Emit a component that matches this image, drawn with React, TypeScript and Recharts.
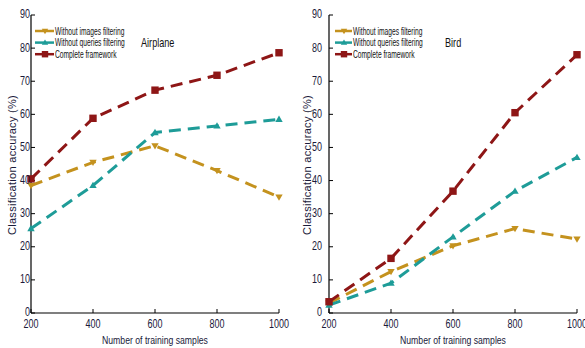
import React from 'react';
import { LineChart, Line, XAxis, YAxis, Legend } from 'recharts';

const xValues = [200, 400, 600, 800, 1000];
const xTicks = [200, 400, 600, 800, 1000];
const yTicks = [0, 10, 20, 30, 40, 50, 60, 70, 80, 90];

const airplaneImages = [38.5, 45.5, 50.5, 43, 35];
const airplaneQueries = [25.5, 38.5, 54.5, 56.5, 58.5];
const airplaneComplete = [40.5, 58.8, 67.3, 71.8, 78.6];

const birdImages = [3, 12.5, 20.3, 25.5, 22.3];
const birdQueries = [2.4, 9, 23, 36.8, 47];
const birdComplete = [3.4, 16.5, 36.8, 60.5, 78];

const seriesNames = ['Without images filtering', 'Without queries filtering', 'Complete framework'];
const COLORS = ['#C4921E', '#1E9C98', '#8E1616'];
const SHAPES = ['down', 'up', 'square'];

const FONT = '"Liberation Sans", Arial, sans-serif';
const TEXT_COLOR = '#1a1a3a';

function Marker({ cx, cy, shape, color, s = 3.7 }: any) {
  if (cx == null || cy == null) return null;
  if (shape === 'square') {
    return <rect x={cx - s} y={cy - s} width={2 * s} height={2 * s} fill={color} />;
  }
  if (shape === 'up') {
    return <polygon points={`${cx - s},${cy + s * 0.7} ${cx + s},${cy + s * 0.7} ${cx},${cy - s}`} fill={color} />;
  }
  return <polygon points={`${cx - s},${cy - s * 0.7} ${cx + s},${cy - s * 0.7} ${cx},${cy + s}`} fill={color} />;
}

function buildData(a: number[], b: number[], c: number[]) {
  return xValues.map((x, i) => ({ x, s0: a[i], s1: b[i], s2: c[i] }));
}

function LegendBox({ left, textLeft, title, titleLeft, width }: any) {
  return (
    <svg width={width} height={70} style={{ position: 'absolute', left: 0, top: 0, overflow: 'visible' }}>
      {seriesNames.map((n, i) => {
        const y = 31 + i * 11.6;
        return (
          <g key={n}>
            <line x1={left} y1={y} x2={textLeft - 1} y2={y} stroke={COLORS[i]} strokeWidth={2.5} />
            <Marker cx={(left + textLeft) / 2} cy={y} shape={SHAPES[i]} color={COLORS[i]} s={3.2} />
            <g transform={`translate(${textLeft},${y}) scale(0.65,1)`}>
              <text x={0} y={0} dy="0.35em" style={{ fontFamily: FONT, fontSize: 10.3, fill: '#111' }}>{n}</text>
            </g>
          </g>
        );
      })}
      <g transform={`translate(${titleLeft},43) scale(0.76,1)`}>
        <text x={0} y={0} dy="0.35em" style={{ fontFamily: FONT, fontSize: 12, fill: '#111' }}>{title}</text>
      </g>
    </svg>
  );
}

function XTick(props: any) {
  const { x, y, payload } = props;
  return (
    <g transform={`translate(${x},${y})`}>
      <text transform="scale(0.72,1)" textAnchor="middle" dy="0.71em" style={{ fontFamily: FONT, fontSize: 12.5, fill: TEXT_COLOR }}>
        {payload.value}
      </text>
    </g>
  );
}

function YTick(props: any) {
  const { x, y, payload } = props;
  return (
    <g transform={`translate(${x},${y - 1})`}>
      <text transform="scale(0.72,1)" textAnchor="end" dy="0.355em" style={{ fontFamily: FONT, fontSize: 12.5, fill: TEXT_COLOR }}>
        {payload.value}
      </text>
    </g>
  );
}

function Panel({ data, width, yAxisWidth, rightMargin, yTickMargin, yLabelX, xLabelX, legendLeft, legendTextLeft, title, titleLeft }: any) {
  const yLabel = () => (
    <text x={yLabelX} y={165} transform={`rotate(-90 ${yLabelX} 165)`} textAnchor="middle" dominantBaseline="central"
      style={{ fontFamily: FONT, fontSize: 11, fill: TEXT_COLOR, letterSpacing: 0.3 }}>Classification accuracy (%)</text>
  );
  const xLabel = () => (
    <g transform={`translate(${xLabelX},340) scale(0.754,1)`}>
      <text x={0} y={0} textAnchor="middle" dy="0.35em" style={{ fontFamily: FONT, fontSize: 11.5, fill: TEXT_COLOR }}>
        Number of training samples
      </text>
    </g>
  );
  return (
    <LineChart width={width} height={348} data={data} margin={{ top: 15, right: rightMargin, left: 0, bottom: 0 }}
      style={{ overflow: 'visible' }}>
      <XAxis xAxisId="b" dataKey="x" type="number" domain={[200, 1000]} ticks={xTicks} tickSize={-4} tickMargin={10}
        height={35} tick={<XTick />} axisLine={{ stroke: '#000', strokeWidth: 1.2 }} tickLine={{ stroke: '#000' }}
        interval={0} label={{ content: xLabel }} />
      <XAxis xAxisId="t" orientation="top" dataKey="x" type="number" domain={[200, 1000]} ticks={xTicks} tickSize={-4}
        height={0} tickFormatter={() => ''} axisLine={{ stroke: '#444', strokeWidth: 1 }} tickLine={{ stroke: '#444' }} />
      <YAxis yAxisId="l" type="number" domain={[0, 90]} ticks={yTicks} tickSize={-4} tickMargin={yTickMargin} width={yAxisWidth}
        tick={<YTick />} axisLine={{ stroke: '#000', strokeWidth: 1.2 }} tickLine={{ stroke: '#000' }} interval={0}
        label={{ content: yLabel }} />
      <YAxis yAxisId="r" orientation="right" type="number" domain={[0, 90]} ticks={yTicks} tickSize={-4} width={0}
        tickFormatter={() => ''} axisLine={{ stroke: '#888', strokeWidth: 1.5 }} tickLine={{ stroke: '#444' }} />
      <Legend layout="vertical" align="center" verticalAlign="middle"
        wrapperStyle={{ position: 'absolute', left: 0, top: 0, width: 1, height: 1 }}
        content={() => <LegendBox width={width} left={legendLeft} textLeft={legendTextLeft} title={title} titleLeft={titleLeft} />} />
      {[0, 1, 2].map((i) => (
        <Line key={i} xAxisId="b" yAxisId="l" dataKey={`s${i}`} name={seriesNames[i]} stroke={COLORS[i]} strokeWidth={3}
          strokeDasharray="12 7" isAnimationActive={false} legendType="none"
          dot={(p: any) => <Marker key={`m${i}-${p.index}`} cx={p.cx} cy={p.cy} shape={SHAPES[i]} color={COLORS[i]} />} />
      ))}
    </LineChart>
  );
}

export default function App() {
  const airplane = buildData(airplaneImages, airplaneQueries, airplaneComplete);
  const bird = buildData(birdImages, birdQueries, birdComplete);
  return (
    <div style={{ position: 'absolute', left: 0, top: 0, width: 585, height: 348, background: '#fff', overflow: 'hidden' }}>
      <div style={{ position: 'absolute', left: 0, top: 0 }}>
        <Panel data={airplane} width={290} yAxisWidth={31} rightMargin={11} yTickMargin={5} yLabelX={12} xLabelX={155}
          legendLeft={35} legendTextLeft={55} title="Airplane" titleLeft={141} />
      </div>
      <div style={{ position: 'absolute', left: 290, top: 0 }}>
        <Panel data={bird} width={295} yAxisWidth={39} rightMargin={8} yTickMargin={11} yLabelX={17} xLabelX={163}
          legendLeft={45} legendTextLeft={63} title="Bird" titleLeft={155} />
      </div>
    </div>
  );
}
